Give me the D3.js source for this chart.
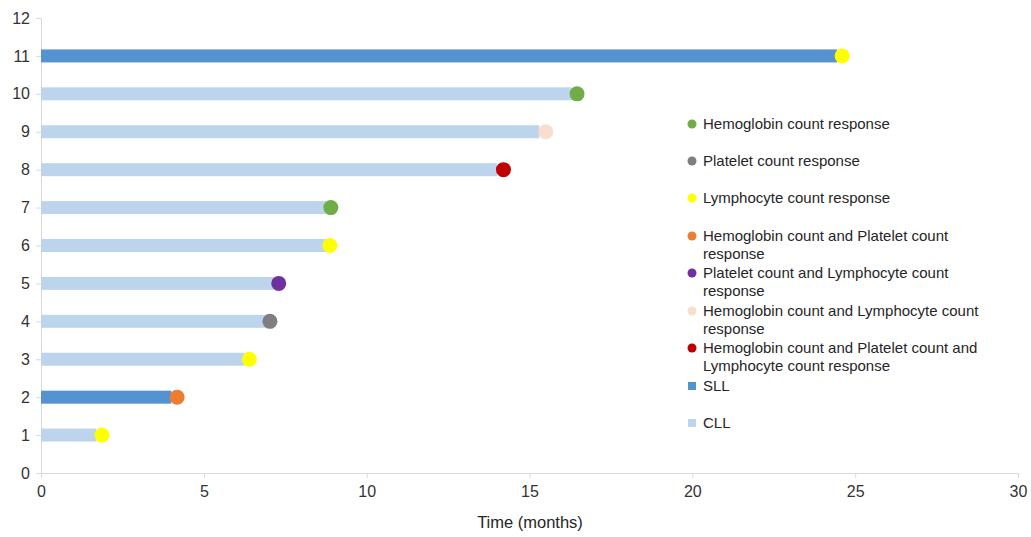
<!DOCTYPE html>
<html><head><meta charset="utf-8">
<script src="https://cdn.jsdelivr.net/npm/d3@7"></script>
<style>body{margin:0;background:#fff}svg{display:block}text{font-family:"Liberation Sans",Arial,sans-serif}</style>
</head><body>
<svg id="c" width="1031" height="537"></svg>
<script>
// Data
const patients = [1,2,3,4,5,6,7,8,9,10,11];
const diseaseType = ["CLL","SLL","CLL","CLL","CLL","CLL","CLL","CLL","CLL","CLL","SLL"];
const barEnd = [1.7,4.0,6.25,6.9,7.15,8.75,8.75,14.0,15.3,16.3,24.45];
const responseTime = [1.87,4.18,6.4,7.03,7.3,8.87,8.9,14.2,15.5,16.46,24.6];
const responseType = ["Lymph","HbPlt","Lymph","Plt","PltLymph","Lymph","Hb","HbPltLymph","HbLymph","Hb","Lymph"];
const xTicks = [0,5,10,15,20,25,30];
const yTicks = [0,1,2,3,4,5,6,7,8,9,10,11,12];
const responseKeys = ["Hb","Plt","Lymph","HbPlt","PltLymph","HbLymph","HbPltLymph"];
const responseLabels = [
  ["Hemoglobin count response"],
  ["Platelet count response"],
  ["Lymphocyte count response"],
  ["Hemoglobin count and Platelet count","response"],
  ["Platelet count and Lymphocyte count","response"],
  ["Hemoglobin count and Lymphocyte count","response"],
  ["Hemoglobin count and Platelet count and","Lymphocyte count response"]
];
const responseColors = ["#70ad47","#7f7f7f","#ffff00","#ed7d31","#7030a0","#f8decf","#c00000"];
const diseaseKeys = ["SLL","CLL"];
const diseaseColors = ["#5593d0","#bcd5ec"];

const svg = d3.select("#c");
const x = d3.scaleLinear().domain([0,30]).range([41,1018]);
const y = d3.scaleLinear().domain([0,12]).range([473,18]);
const rColor = d3.scaleOrdinal().domain(responseKeys).range(responseColors);
const dColor = d3.scaleOrdinal().domain(diseaseKeys).range(diseaseColors);
const axisCol = "#d9d9d9", textCol = "#333333";

// axes
const xa = svg.append("g").attr("transform","translate(0,"+y(0)+")")
  .call(d3.axisBottom(x).tickValues(xTicks).tickSize(5).tickPadding(8));
const ya = svg.append("g").attr("transform","translate("+x(0)+",0)")
  .call(d3.axisLeft(y).tickValues(yTicks).tickSize(5).tickPadding(6));
[xa,ya].forEach(g=>{
  g.select(".domain").attr("stroke",axisCol);
  g.selectAll(".tick line").attr("stroke",axisCol);
  g.selectAll(".tick text").attr("fill",textCol).style("font-size","16px").style("font-family","Liberation Sans, Arial, sans-serif");
});
svg.append("text").attr("x",530).attr("y",528).attr("text-anchor","middle")
  .attr("fill","#262626").style("font-size","16.5px").text("Time (months)");

// bars
const bh = 13;
svg.append("g").selectAll("rect").data(patients).join("rect")
  .attr("x",x(0)).attr("y",(d)=>y(d)-bh/2)
  .attr("width",(d,i)=>x(barEnd[i])-x(0)).attr("height",bh)
  .attr("fill",(d,i)=>dColor(diseaseType[i]));
// dots
svg.append("g").selectAll("circle").data(patients).join("circle")
  .attr("cx",(d,i)=>x(responseTime[i])).attr("cy",d=>y(d)).attr("r",7.5)
  .attr("fill",(d,i)=>rColor(responseType[i]));

// legend
const legY = [124,161,198,236,273,311,348];
const lg = svg.append("g");
responseKeys.forEach((k,i)=>{
  lg.append("circle").attr("cx",692).attr("cy",legY[i]).attr("r",4.5).attr("fill",rColor(k));
  responseLabels[i].forEach((t,j)=>{
    lg.append("text").attr("x",703).attr("y",legY[i]+5+j*18).attr("fill","#262626")
      .style("font-size","15px").text(t);
  });
});
const dLegY = [386,423];
diseaseKeys.forEach((k,i)=>{
  lg.append("rect").attr("x",688).attr("y",dLegY[i]-4).attr("width",8).attr("height",8).attr("fill",dColor(k));
  lg.append("text").attr("x",703).attr("y",dLegY[i]+5).attr("fill","#262626").style("font-size","15px").text(k);
});
</script>
</body></html>
